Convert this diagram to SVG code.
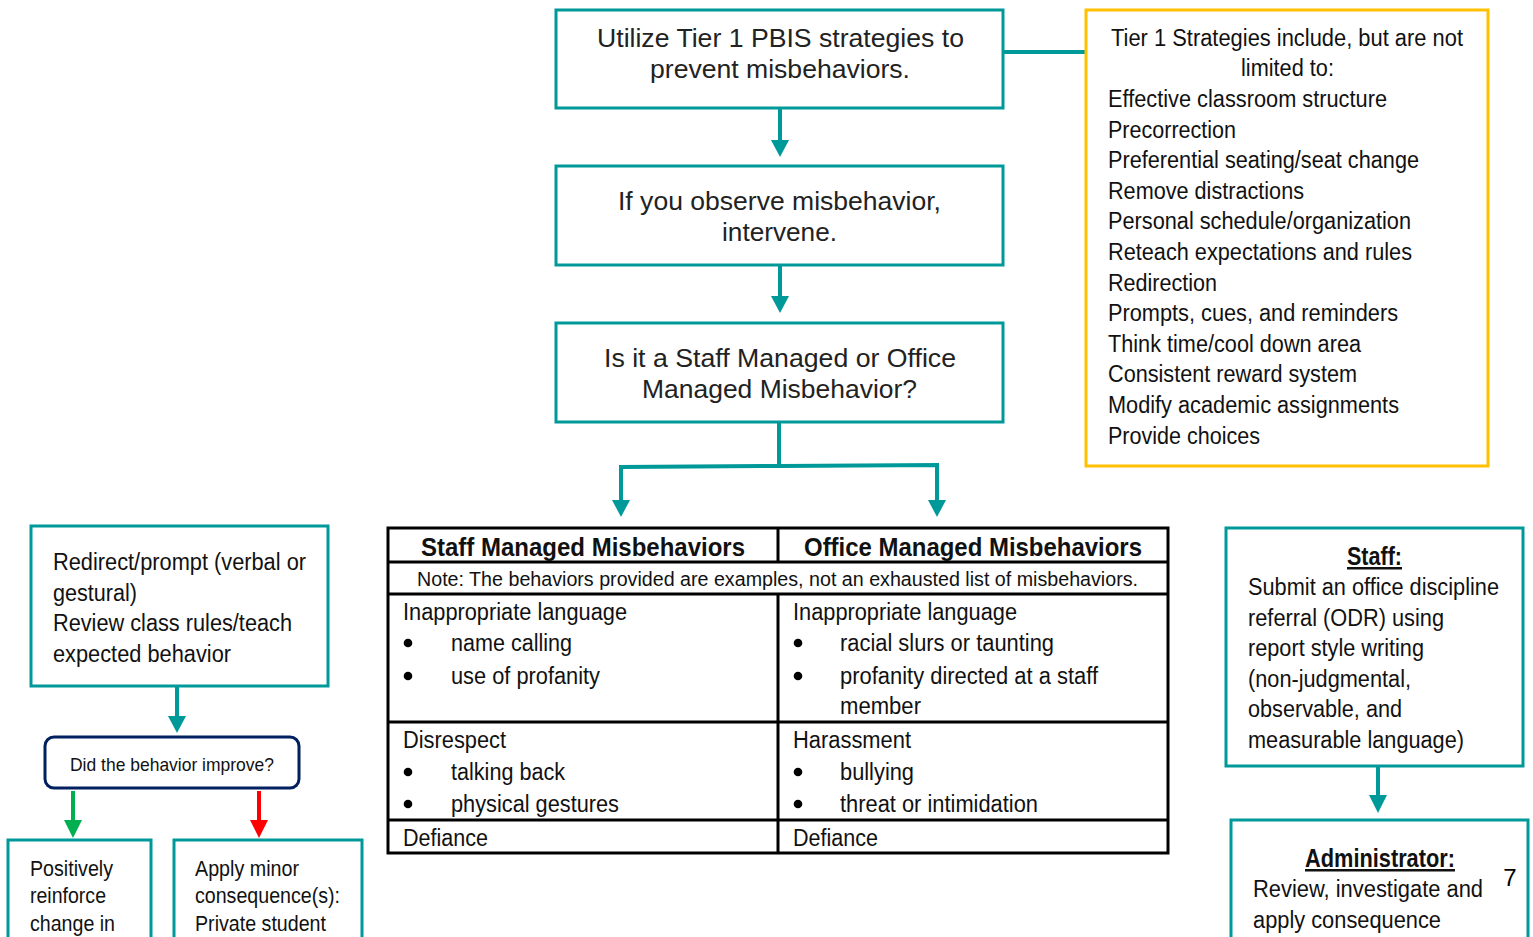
<svg xmlns="http://www.w3.org/2000/svg" width="1533" height="937" viewBox="0 0 1533 937">
<defs>
<style>
.box{fill:#fff;stroke:#00999A;stroke-width:3}
.ybox{fill:#fff;stroke:#FFC000;stroke-width:3}
.nbox{fill:#fff;stroke:#002060;stroke-width:3}
.tb{fill:none;stroke:#000;stroke-width:3}
.c{stroke:#00999A;stroke-width:4;fill:none}
.w{font-family:"Liberation Sans",Arial,sans-serif;font-size:26.5px;fill:#222}
.n{font-family:"Liberation Sans",Arial,sans-serif;font-size:23px;fill:#111}
.nb{font-family:"Liberation Sans",Arial,sans-serif;font-size:25px;font-weight:bold;fill:#111}
.mid{text-anchor:middle}
.dot{fill:#000}
</style>
</defs>
<rect width="1533" height="937" fill="#fff"/>

<g id="connectors">
<line x1="1003" y1="52" x2="1086" y2="52" class="c"/>
<line x1="780" y1="108" x2="780" y2="140" class="c"/>
<path d="M771,140 L789,140 L780,157 z" fill="#00999A"/>
<line x1="780" y1="265" x2="780" y2="296" class="c"/>
<path d="M771,296 L789,296 L780,313 z" fill="#00999A"/>
<line x1="779" y1="422" x2="779" y2="467" class="c"/>
<path d="M621,502 L621,467 L779,466 L937,465 L937,502" class="c"/>
<path d="M612,500 L630,500 L621,517 z" fill="#00999A"/>
<path d="M928,500 L946,500 L937,517 z" fill="#00999A"/>
<line x1="177" y1="686" x2="177" y2="718" class="c"/>
<path d="M168,716 L186,716 L177,733 z" fill="#00999A"/>
<line x1="73" y1="791" x2="73" y2="822" stroke="#00B050" stroke-width="4"/>
<path d="M64,820 L82,820 L73,838 z" fill="#00B050"/>
<line x1="259" y1="791" x2="259" y2="822" stroke="#FF0000" stroke-width="4"/>
<path d="M250,820 L268,820 L259,838 z" fill="#FF0000"/>
<line x1="1378" y1="766" x2="1378" y2="797" class="c"/>
<path d="M1369,795 L1387,795 L1378,813 z" fill="#00999A"/>
</g>

<g id="n-utilize">
<rect x="556" y="10" width="447" height="98" class="box"/>
<text class="w mid" x="780.5" y="47" textLength="367" lengthAdjust="spacingAndGlyphs">Utilize Tier 1 PBIS strategies to</text>
<text class="w mid" x="780" y="78" textLength="260" lengthAdjust="spacingAndGlyphs">prevent misbehaviors.</text>
</g>

<g id="n-observe">
<rect x="556" y="166" width="447" height="99" class="box"/>
<text class="w mid" x="779.5" y="210" textLength="323" lengthAdjust="spacingAndGlyphs">If you observe misbehavior,</text>
<text class="w mid" x="779.5" y="241" textLength="115" lengthAdjust="spacingAndGlyphs">intervene.</text>
</g>

<g id="n-question">
<rect x="556" y="323" width="447" height="99" class="box"/>
<text class="w mid" x="780" y="367" textLength="352" lengthAdjust="spacingAndGlyphs">Is it a Staff Managed or Office</text>
<text class="w mid" x="779.5" y="398" textLength="275" lengthAdjust="spacingAndGlyphs">Managed Misbehavior?</text>
</g>

<g id="n-tier1">
<rect x="1086" y="10" width="402" height="456" class="ybox"/>
<text class="n mid" x="1287" y="46" textLength="352" lengthAdjust="spacingAndGlyphs">Tier 1 Strategies include, but are not</text>
<text class="n mid" x="1287.5" y="76" textLength="93" lengthAdjust="spacingAndGlyphs">limited to:</text>
<text class="n" x="1108" y="107" textLength="279" lengthAdjust="spacingAndGlyphs">Effective classroom structure</text>
<text class="n" x="1108" y="138" textLength="128" lengthAdjust="spacingAndGlyphs">Precorrection</text>
<text class="n" x="1108" y="168" textLength="311" lengthAdjust="spacingAndGlyphs">Preferential seating/seat change</text>
<text class="n" x="1108" y="199" textLength="196" lengthAdjust="spacingAndGlyphs">Remove distractions</text>
<text class="n" x="1108" y="229" textLength="303" lengthAdjust="spacingAndGlyphs">Personal schedule/organization</text>
<text class="n" x="1108" y="260" textLength="304" lengthAdjust="spacingAndGlyphs">Reteach expectations and rules</text>
<text class="n" x="1108" y="291" textLength="109" lengthAdjust="spacingAndGlyphs">Redirection</text>
<text class="n" x="1108" y="321" textLength="290" lengthAdjust="spacingAndGlyphs">Prompts, cues, and reminders</text>
<text class="n" x="1108" y="352" textLength="253" lengthAdjust="spacingAndGlyphs">Think time/cool down area</text>
<text class="n" x="1108" y="382" textLength="249" lengthAdjust="spacingAndGlyphs">Consistent reward system</text>
<text class="n" x="1108" y="413" textLength="291" lengthAdjust="spacingAndGlyphs">Modify academic assignments</text>
<text class="n" x="1108" y="444" textLength="152" lengthAdjust="spacingAndGlyphs">Provide choices</text>
</g>

<g id="n-table">
<rect x="388" y="528" width="780" height="325" class="tb" fill="#fff"/>
<line x1="778" y1="528" x2="778" y2="562" class="tb"/>
<line x1="778" y1="594" x2="778" y2="853" class="tb"/>
<line x1="388" y1="562" x2="1168" y2="562" class="tb"/>
<line x1="388" y1="594" x2="1168" y2="594" class="tb"/>
<line x1="388" y1="722" x2="1168" y2="722" class="tb"/>
<line x1="388" y1="820" x2="1168" y2="820" class="tb"/>
<text class="nb mid" x="583" y="556" textLength="324" lengthAdjust="spacingAndGlyphs">Staff Managed Misbehaviors</text>
<text class="nb mid" x="973" y="556" textLength="338" lengthAdjust="spacingAndGlyphs">Office Managed Misbehaviors</text>
<text class="n mid" x="777.5" y="586" style="font-size:20px" textLength="721" lengthAdjust="spacingAndGlyphs">Note: The behaviors provided are examples, not an exhausted list of misbehaviors.</text>
<text class="n" x="403" y="620" textLength="224" lengthAdjust="spacingAndGlyphs">Inappropriate language</text>
<circle class="dot" cx="408" cy="643" r="4.3"/><text class="n" x="451" y="651" textLength="121" lengthAdjust="spacingAndGlyphs">name calling</text>
<circle class="dot" cx="408" cy="676" r="4.3"/><text class="n" x="451" y="684" textLength="149" lengthAdjust="spacingAndGlyphs">use of profanity</text>
<text class="n" x="793" y="620" textLength="224" lengthAdjust="spacingAndGlyphs">Inappropriate language</text>
<circle class="dot" cx="798" cy="643" r="4.3"/><text class="n" x="840" y="651" textLength="214" lengthAdjust="spacingAndGlyphs">racial slurs or taunting</text>
<circle class="dot" cx="798" cy="676" r="4.3"/><text class="n" x="840" y="684" textLength="258" lengthAdjust="spacingAndGlyphs">profanity directed at a staff</text>
<text class="n" x="840" y="714" textLength="81" lengthAdjust="spacingAndGlyphs">member</text>
<text class="n" x="403" y="748" textLength="103" lengthAdjust="spacingAndGlyphs">Disrespect</text>
<circle class="dot" cx="408" cy="772" r="4.3"/><text class="n" x="451" y="780" textLength="114" lengthAdjust="spacingAndGlyphs">talking back</text>
<circle class="dot" cx="408" cy="804" r="4.3"/><text class="n" x="451" y="812" textLength="168" lengthAdjust="spacingAndGlyphs">physical gestures</text>
<text class="n" x="793" y="748" textLength="118" lengthAdjust="spacingAndGlyphs">Harassment</text>
<circle class="dot" cx="798" cy="772" r="4.3"/><text class="n" x="840" y="780" textLength="74" lengthAdjust="spacingAndGlyphs">bullying</text>
<circle class="dot" cx="798" cy="804" r="4.3"/><text class="n" x="840" y="812" textLength="198" lengthAdjust="spacingAndGlyphs">threat or intimidation</text>
<text class="n" x="403" y="846" textLength="85" lengthAdjust="spacingAndGlyphs">Defiance</text>
<text class="n" x="793" y="846" textLength="85" lengthAdjust="spacingAndGlyphs">Defiance</text>
</g>

<g id="n-redirect">
<rect x="31" y="526" width="297" height="160" class="box"/>
<text class="n" x="53" y="570" textLength="253" lengthAdjust="spacingAndGlyphs">Redirect/prompt (verbal or</text>
<text class="n" x="53" y="601" textLength="84" lengthAdjust="spacingAndGlyphs">gestural)</text>
<text class="n" x="53" y="631" textLength="239" lengthAdjust="spacingAndGlyphs">Review class rules/teach</text>
<text class="n" x="53" y="662" textLength="178" lengthAdjust="spacingAndGlyphs">expected behavior</text>
</g>

<g id="n-improve">
<rect x="45" y="737" width="254" height="51" rx="9" class="nbox"/>
<text class="n mid" x="172" y="771" style="font-size:19px" textLength="204" lengthAdjust="spacingAndGlyphs">Did the behavior improve?</text>
</g>

<g id="n-positive">
<rect x="8" y="840" width="143" height="110" class="box"/>
<text class="n" x="30" y="876" style="font-size:22px" textLength="83" lengthAdjust="spacingAndGlyphs">Positively</text>
<text class="n" x="30" y="903" style="font-size:22px" textLength="76" lengthAdjust="spacingAndGlyphs">reinforce</text>
<text class="n" x="30" y="931" style="font-size:22px" textLength="85" lengthAdjust="spacingAndGlyphs">change in</text>
</g>

<g id="n-minor">
<rect x="174" y="840" width="188" height="110" class="box"/>
<text class="n" x="195" y="876" style="font-size:22px" textLength="104" lengthAdjust="spacingAndGlyphs">Apply minor</text>
<text class="n" x="195" y="903" style="font-size:22px" textLength="145" lengthAdjust="spacingAndGlyphs">consequence(s):</text>
<text class="n" x="195" y="931" style="font-size:22px" textLength="131" lengthAdjust="spacingAndGlyphs">Private student</text>
</g>

<g id="n-staff">
<rect x="1226" y="528" width="297" height="238" class="box"/>
<text class="nb mid" x="1374.5" y="565" text-decoration="underline" textLength="55" lengthAdjust="spacingAndGlyphs">Staff:</text>
<text class="n" x="1248" y="595" textLength="251" lengthAdjust="spacingAndGlyphs">Submit an office discipline</text>
<text class="n" x="1248" y="626" textLength="196" lengthAdjust="spacingAndGlyphs">referral (ODR) using</text>
<text class="n" x="1248" y="656" textLength="176" lengthAdjust="spacingAndGlyphs">report style writing</text>
<text class="n" x="1248" y="687" textLength="163" lengthAdjust="spacingAndGlyphs">(non-judgmental,</text>
<text class="n" x="1248" y="717" textLength="154" lengthAdjust="spacingAndGlyphs">observable, and</text>
<text class="n" x="1248" y="748" textLength="216" lengthAdjust="spacingAndGlyphs">measurable language)</text>
</g>

<g id="n-admin">
<rect x="1231" y="820" width="297" height="130" class="box"/>
<text class="nb mid" x="1380" y="867" text-decoration="underline" textLength="150" lengthAdjust="spacingAndGlyphs">Administrator:</text>
<text class="n" x="1253" y="897" textLength="230" lengthAdjust="spacingAndGlyphs">Review, investigate and</text>
<text class="n" x="1253" y="928" textLength="188" lengthAdjust="spacingAndGlyphs">apply consequence</text>
</g>

<g id="page-number">
<text x="1510" y="886" style="font-family:'Liberation Sans',Arial,sans-serif;font-size:24px;fill:#000" class="mid">7</text>
</g>
</svg>
